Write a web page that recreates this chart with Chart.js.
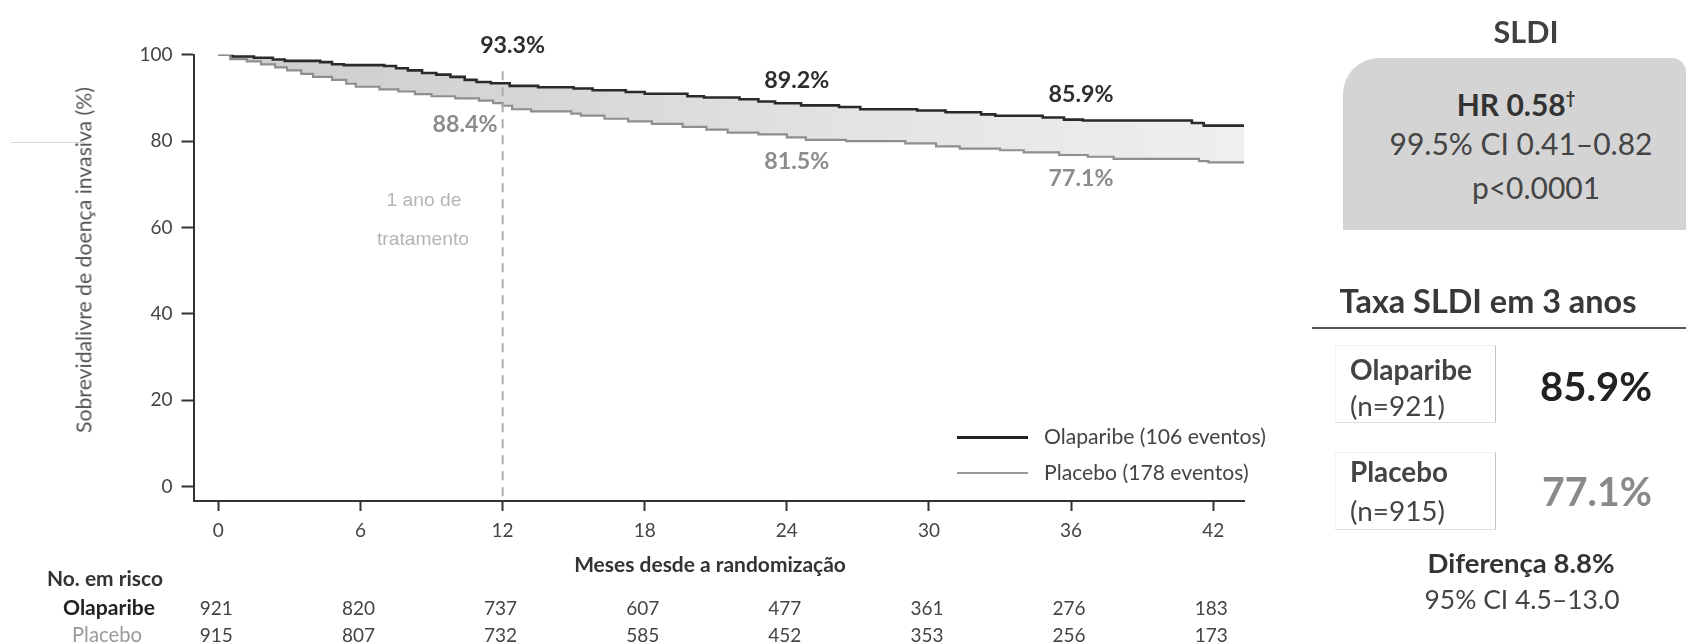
<!DOCTYPE html>
<html>
<head>
<meta charset="utf-8">
<script src="https://cdn.jsdelivr.net/npm/chart.js@4.4.1/dist/chart.umd.min.js"></script>
<style>
html,body{margin:0;padding:0;background:#fff;}
#wrap{position:relative;width:1686px;height:643px;overflow:hidden;font-family:Lato,"Open Sans",sans-serif;}
#c{position:absolute;left:0;top:0;}
.t{position:absolute;white-space:nowrap;line-height:1;}
.box{position:absolute;box-sizing:border-box;}
</style>
</head>
<body>
<div id="wrap">
  <canvas id="c" width="1686" height="643"></canvas>
</div>
<script>
// ---------------- DATA ----------------
const xTickValues = [0, 6, 12, 18, 24, 30, 36, 42];
const yTickValues = [0, 20, 40, 60, 80, 100];

const olaMonths = [0, 0.6, 1.5, 2.3, 2.8, 4.3, 4.8, 5.3, 7.0, 7.5, 8.0, 8.6, 9.2, 9.8, 10.4, 10.9, 11.5, 12.3, 13.5, 15.0, 15.8, 17.2, 18.0, 19.8, 20.5, 22.0, 22.8, 23.5, 24.6, 26.2, 27.1, 29.5, 30.7, 32.2, 32.8, 34.8, 35.7, 36.5, 41.1, 41.6, 43.4];
const olaSurv   = [100, 99.6, 99.3, 98.9, 98.6, 98.3, 97.8, 97.6, 97.4, 96.9, 96.4, 95.8, 95.4, 94.9, 94.2, 93.7, 93.4, 92.8, 92.5, 92.2, 91.8, 91.4, 91.0, 90.4, 90.1, 89.7, 89.2, 88.8, 88.3, 87.9, 87.4, 87.1, 86.7, 86.2, 85.9, 85.5, 85.0, 84.8, 84.2, 83.6, 83.6];

const plaMonths = [0, 0.5, 1.2, 1.8, 2.4, 2.9, 3.5, 4.0, 4.8, 5.4, 5.8, 6.8, 7.6, 8.3, 9.0, 10.0, 11.0, 11.6, 12.0, 12.4, 13.2, 14.9, 15.3, 16.3, 17.3, 18.3, 19.6, 20.6, 21.5, 22.8, 24.0, 24.8, 26.5, 29.0, 30.3, 31.3, 33.0, 34.0, 35.5, 36.7, 37.8, 41.4, 41.8, 43.4];
const plaSurv   = [100, 99.0, 98.5, 97.8, 97.1, 96.4, 95.6, 94.9, 94.2, 93.3, 92.6, 92.0, 91.5, 90.9, 90.4, 89.9, 89.4, 88.8, 88.2, 87.4, 86.9, 86.4, 85.9, 85.2, 84.6, 84.0, 83.3, 82.7, 82.0, 81.6, 80.9, 80.3, 80.0, 79.5, 78.8, 78.3, 77.9, 77.4, 76.8, 76.4, 75.9, 75.4, 75.1, 75.1];

const riskOla = [921, 820, 737, 607, 477, 361, 276, 183];
const riskPla = [915, 807, 732, 585, 452, 353, 256, 173];

const landmarkMonths = [12, 24, 36];
const olaLandmark = [93.3, 89.2, 85.9];
const plaLandmark = [88.4, 81.5, 77.1];

const treatmentMonth = 12;
const treatmentLineTop = 96.2;
const seriesNames = ['Olaparibe (106 eventos)', 'Placebo (178 eventos)'];
const yMin = -3.3, yMax = 100, xMin = -1.05, xMax = 43.3;

// ---------------- HELPERS ----------------
const FONT = 'Lato';
const wrap = document.getElementById('wrap');
const mctx = document.createElement('canvas').getContext('2d');
function fitSize(text, weight, family, w) {
  mctx.font = weight + ' 100px ' + family;
  return 100 * w / mctx.measureText(text).width;
}
function addText(text, x, y, o) {
  const d = document.createElement('div');
  d.className = 't';
  const weight = o.weight || 'normal';
  const family = o.family || FONT;
  const size = o.size || fitSize(o.measure || text, weight, family, o.w);
  if (o.html) d.innerHTML = o.html; else d.textContent = text;
  d.style.fontFamily = family;
  d.style.fontWeight = weight;
  d.style.fontSize = size + 'px';
  d.style.color = o.color || '#444';
  d.style.left = x + 'px';
  d.style.top = y + 'px';
  const tx = o.align === 'left' ? '0' : (o.align === 'right' ? '-100%' : '-50%');
  d.style.transform = 'translate(' + tx + ',-50%)' + (o.rotate ? ' rotate(' + o.rotate + 'deg)' : '');
  wrap.appendChild(d);
  return d;
}
function addBox(l, t, w, h, css) {
  const d = document.createElement('div');
  d.className = 'box';
  d.style.left = l + 'px'; d.style.top = t + 'px';
  d.style.width = w + 'px'; d.style.height = h + 'px';
  Object.assign(d.style, css || {});
  wrap.appendChild(d);
  return d;
}

function fillGradient(context) {
  const chart = context.chart;
  const area = chart.chartArea;
  if (!area) return '#dddddd';
  const g = chart.ctx.createLinearGradient(area.left, 0, area.right, 0);
  g.addColorStop(0, '#cdcdcd');
  g.addColorStop(0.3, '#d5d5d5');
  g.addColorStop(0.6, '#e2e2e2');
  g.addColorStop(1, '#efefef');
  return g;
}

// ---------------- CHART ----------------
const chart = new Chart(document.getElementById('c'), {
  type: 'line',
  data: {
    datasets: [
      {
        label: seriesNames[0],
        data: olaMonths.map((m, i) => ({ x: m, y: olaSurv[i] })),
        borderColor: '#2a2a2a', borderWidth: 2.6, stepped: true,
        pointRadius: 0, fill: '+1', backgroundColor: fillGradient, order: 2
      },
      {
        label: seriesNames[1],
        data: plaMonths.map((m, i) => ({ x: m, y: plaSurv[i] })),
        borderColor: '#8e8e8e', borderWidth: 2.2, stepped: true,
        pointRadius: 0, fill: false, order: 1
      },
      {
        label: '1 ano',
        data: [{ x: treatmentMonth, y: treatmentLineTop }, { x: treatmentMonth, y: yMin }],
        borderColor: '#ababab', borderWidth: 2, borderDash: [9, 7],
        pointRadius: 0, fill: false, order: 0
      }
    ]
  },
  options: {
    responsive: false, animation: false, devicePixelRatio: 1,
    layout: { padding: { left: 113.5, right: 442, top: 54.8, bottom: 102 } },
    plugins: { legend: { display: false }, tooltip: { enabled: false } },
    scales: {
      x: {
        type: 'linear', min: xMin, max: xMax,
        afterBuildTicks: s => { s.ticks = xTickValues.map(v => ({ value: v })); },
        afterFit: s => { s.height = 40; },
        grid: { display: true, drawOnChartArea: false, drawTicks: true, tickLength: 10, tickWidth: 2, tickColor: '#333' },
        border: { color: '#333', width: 2 },
        ticks: { font: { family: FONT, size: 19 }, color: '#444', padding: 8, autoSkip: false, maxRotation: 0 }
      },
      y: {
        min: yMin, max: yMax,
        afterBuildTicks: s => { s.ticks = yTickValues.map(v => ({ value: v })); },
        afterFit: s => { s.width = 80; },
        grid: { display: true, drawOnChartArea: false, drawTicks: true, tickLength: 12, tickWidth: 2, tickColor: '#333' },
        border: { color: '#333', width: 2 },
        ticks: { font: { family: FONT, size: 19 }, color: '#444', padding: 9 }
      }
    }
  }
});

// ---------------- OVERLAY TEXT ----------------
const xs = chart.scales.x, ys = chart.scales.y;

// stray thin line at top-left
addBox(11, 142, 74, 1, { background: '#d6d6d6' });

// y title
addText('Sobrevidalivre de doença invasiva (%)', 84, 260, { w: 346, color: '#555', rotate: -90 });
// x title
addText('Meses desde a randomização', 710, 563, { w: 272, weight: 'bold', color: '#333' });

// landmark labels
const olaDx = [10, 10, 10], olaDy = [-38.7, -21.5, -21.7];
const plaDx = [-37.6, 10, 10], plaDy = [19, 26, 24];
landmarkMonths.forEach((m, i) => {
  addText(olaLandmark[i].toFixed(1) + '%', xs.getPixelForValue(m) + olaDx[i], ys.getPixelForValue(olaLandmark[i]) + olaDy[i], { w: 65, weight: 'bold', color: '#2e2e2e' });
  addText(plaLandmark[i].toFixed(1) + '%', xs.getPixelForValue(m) + plaDx[i], ys.getPixelForValue(plaLandmark[i]) + plaDy[i], { w: 65, weight: 'bold', color: '#8c8c8c' });
});

// treatment note
addText('1 ano de', 424, 200, { w: 75, family: '"Liberation Sans"', color: '#b5b5b5' });
addText('tratamento', 423, 239, { w: 92, family: '"Liberation Sans"', color: '#b5b5b5' });

// legend
addBox(957, 435.5, 71, 3, { background: '#222' });
addBox(957, 472, 71, 2, { background: '#9a9a9a' });
const legSize = fitSize(seriesNames[0], 'normal', FONT, 222);
addText(seriesNames[0], 1044, 437, { size: legSize, align: 'left', color: '#444' });
addText(seriesNames[1], 1044, 473, { size: legSize, align: 'left', color: '#444' });

// risk table
addText('No. em risco', 105, 578, { w: 116, weight: 'bold', color: '#333' });
addText('Olaparibe', 109, 607, { w: 92, weight: 'bold', color: '#222' });
addText('Placebo', 107, 634, { w: 70, color: '#9a9a9a' });
xTickValues.forEach((v, i) => {
  const px = xs.getPixelForValue(v);
  addText(String(riskOla[i]), px - 2, 607, { size: 19, color: '#444' });
  addText(String(riskPla[i]), px - 2, 634, { size: 19, color: '#444' });
});

// ---------------- RIGHT PANEL ----------------
addText('SLDI', 1526, 32, { w: 65, weight: 'bold', color: '#404040' });
addBox(1343, 58, 343, 172, { background: '#d4d4d4', borderRadius: '36px 14px 0 0' });
addText('HR 0.58', 1516, 104, { size: 30, weight: 'bold', color: '#333', html: 'HR 0.58<span style="font-size:0.55em;vertical-align:0.75em">&dagger;</span>' });
const ciSize = fitSize('99.5% CI 0.41–0.82', 'normal', FONT, 263);
addText('99.5% CI 0.41–0.82', 1521, 143, { size: ciSize, color: '#444' });
addText('p<0.0001', 1536, 187, { size: ciSize, color: '#444' });

addText('Taxa SLDI em 3 anos', 1488, 301, { w: 297, weight: 'bold', color: '#383838' });
addBox(1312, 326.5, 374, 2.5, { background: '#555' });

const boxCss = { borderRight: '1.5px solid #c4c4c4', borderBottom: '1px solid #e0e0e0', borderTop: '1px solid #f1f1f1', borderLeft: '1px solid #f3f3f3' };
addBox(1335, 345, 161, 78, boxCss);
addBox(1335, 452, 161, 78, boxCss);
addText('Olaparibe', 1350, 369, { w: 122, weight: 'bold', color: '#444', align: 'left' });
addText('(n=921)', 1350, 406, { w: 95, color: '#444', align: 'left' });
addText('85.9%', 1596, 386, { w: 112, weight: 'bold', color: '#222' });
addText('Placebo', 1350, 472, { w: 98, weight: 'bold', color: '#444', align: 'left' });
addText('(n=915)', 1350, 511, { w: 95, color: '#444', align: 'left' });
addText('77.1%', 1597, 491, { w: 110, weight: 'bold', color: '#8a8a8a' });

addText('Diferença 8.8%', 1521, 563, { w: 187, weight: 'bold', color: '#333' });
addText('95% CI 4.5–13.0', 1522, 599, { w: 195, color: '#444' });
</script>
</body>
</html>
